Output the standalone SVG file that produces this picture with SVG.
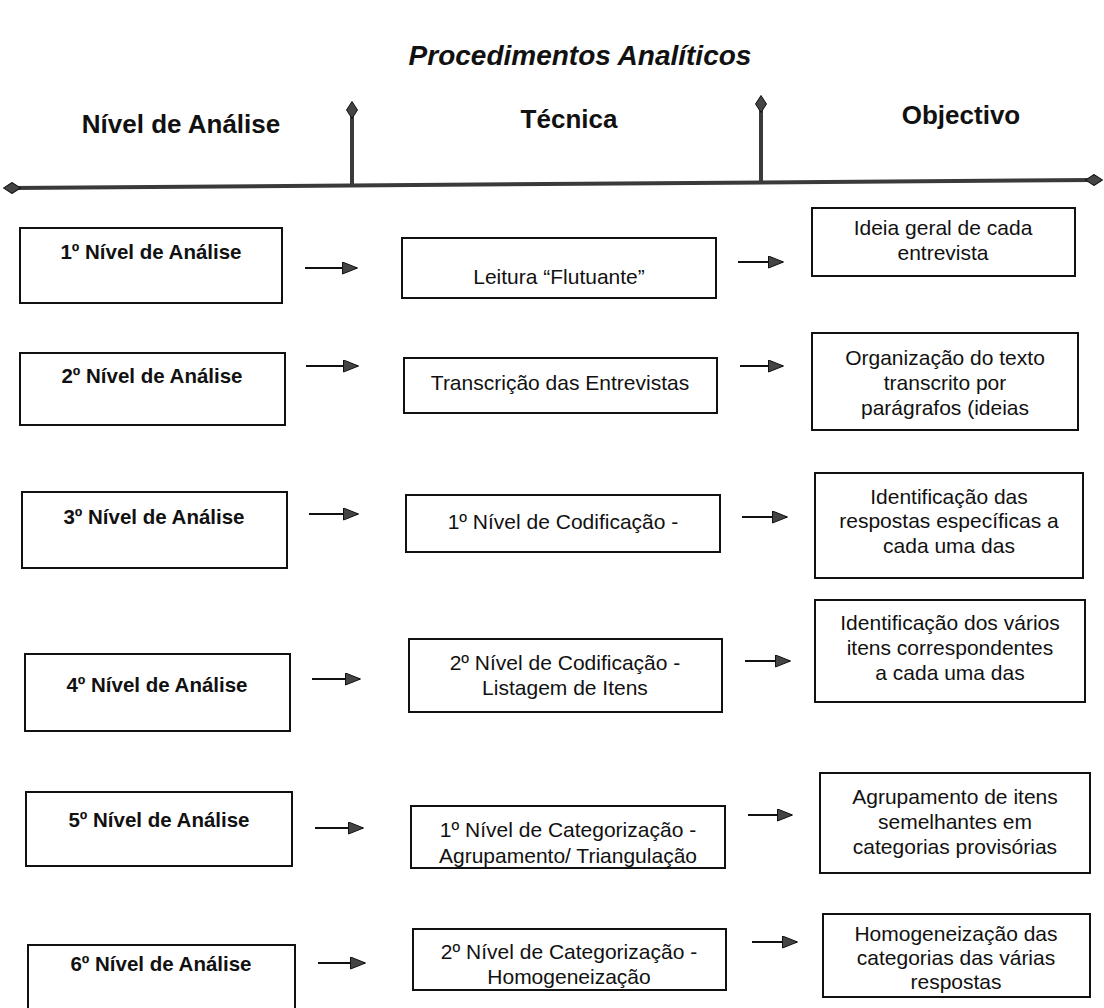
<svg xmlns="http://www.w3.org/2000/svg" width="1104" height="1008" viewBox="0 0 1104 1008">
<style>
  .box { fill: #fff; stroke: #111; stroke-width: 2; }
  .lbl { font-family: "Liberation Sans", Arial, sans-serif; font-size: 20.5px; font-weight: bold; fill: #111; text-anchor: middle; }
  .txt { font-family: "Liberation Sans", Arial, sans-serif; font-size: 21px; fill: #111; text-anchor: middle; }
  .hdr { font-family: "Liberation Sans", Arial, sans-serif; font-size: 26px; font-weight: bold; fill: #111; text-anchor: middle; }
  .title { font-family: "Liberation Sans", Arial, sans-serif; font-size: 28px; font-weight: bold; font-style: italic; fill: #111; text-anchor: middle; }
  .conn { stroke: #111; stroke-width: 2; fill: none; marker-end: url(#arrow); }
  .axis { stroke: #3a3a3a; stroke-width: 4; fill: none; }
</style>
<defs>
  <marker id="arrow" viewBox="0 0 16 13" refX="15" refY="6.5" markerWidth="16" markerHeight="13" markerUnits="userSpaceOnUse" orient="auto">
    <path d="M0.5,0.5 L15.5,6.5 L0.5,12.5 Z" fill="#444" stroke="#111" stroke-width="1"/>
  </marker>
  <marker id="diamond" viewBox="0 0 18 12" refX="9" refY="6" markerWidth="18" markerHeight="12" markerUnits="userSpaceOnUse" orient="auto">
    <path d="M0.5,6 L9,0.5 L17.5,6 L9,11.5 Z" fill="#444" stroke="#111" stroke-width="1"/>
  </marker>
</defs>

<g id="title">
  <text class="title" x="580" y="65">Procedimentos Analíticos</text>
</g>

<g id="headers">
  <text class="hdr" x="181" y="133">Nível de Análise</text>
  <text class="hdr" x="569" y="128">Técnica</text>
  <text class="hdr" x="961" y="124">Objectivo</text>
</g>

<g id="axis">
  <path class="axis" d="M12,188 L1094,180" marker-start="url(#diamond)" marker-end="url(#diamond)"/>
  <path class="axis" d="M352,186 L352,110" marker-end="url(#diamond)"/>
  <path class="axis" d="M761,182 L761,104" marker-end="url(#diamond)"/>
</g>

<g id="n1a"><rect class="box" x="20" y="228" width="262" height="75"/><text class="lbl" x="151" y="259">1º Nível de Análise</text></g>
<g id="n1b"><rect class="box" x="402" y="238" width="314" height="60"/><text class="txt" x="559" y="284">Leitura “Flutuante”</text></g>
<g id="n1c"><rect class="box" x="812" y="208" width="263" height="68"/><text class="txt" x="943" y="235">Ideia geral de cada</text><text class="txt" x="943" y="260">entrevista</text></g>

<g id="n2a"><rect class="box" x="20" y="353" width="265" height="72"/><text class="lbl" x="152" y="383">2º Nível de Análise</text></g>
<g id="n2b"><rect class="box" x="404" y="358" width="313" height="55"/><text class="txt" x="560" y="390">Transcrição das Entrevistas</text></g>
<g id="n2c"><rect class="box" x="812" y="333" width="266" height="97"/><text class="txt" x="945" y="365">Organização do texto</text><text class="txt" x="945" y="390">transcrito por</text><text class="txt" x="945" y="415">parágrafos (ideias</text></g>

<g id="n3a"><rect class="box" x="22" y="492" width="265" height="76"/><text class="lbl" x="154" y="524">3º Nível de Análise</text></g>
<g id="n3b"><rect class="box" x="406" y="495" width="314" height="57"/><text class="txt" x="563" y="529">1º Nível de Codificação -</text></g>
<g id="n3c"><rect class="box" x="815" y="473" width="268" height="105"/><text class="txt" x="949" y="504">Identificação das</text><text class="txt" x="949" y="528">respostas específicas a</text><text class="txt" x="949" y="553">cada uma das</text></g>

<g id="n4a"><rect class="box" x="25" y="654" width="265" height="77"/><text class="lbl" x="157" y="692">4º Nível de Análise</text></g>
<g id="n4b"><rect class="box" x="409" y="639" width="313" height="73"/><text class="txt" x="565" y="670">2º Nível de Codificação -</text><text class="txt" x="565" y="695">Listagem de Itens</text></g>
<g id="n4c"><rect class="box" x="815" y="600" width="270" height="102"/><text class="txt" x="950" y="630">Identificação dos vários</text><text class="txt" x="950" y="655">itens correspondentes</text><text class="txt" x="950" y="680">a cada uma das</text></g>

<g id="n5a"><rect class="box" x="26" y="792" width="266" height="74"/><text class="lbl" x="159" y="827">5º Nível de Análise</text></g>
<g id="n5b"><rect class="box" x="411" y="806" width="314" height="62"/><text class="txt" x="568" y="837">1º Nível de Categorização -</text><text class="txt" x="568" y="863">Agrupamento/ Triangulação</text></g>
<g id="n5c"><rect class="box" x="820" y="773" width="270" height="100"/><text class="txt" x="955" y="804">Agrupamento de itens</text><text class="txt" x="955" y="829">semelhantes em</text><text class="txt" x="955" y="854">categorias provisórias</text></g>

<g id="n6a"><rect class="box" x="28" y="945" width="267" height="80"/><text class="lbl" x="161" y="971">6º Nível de Análise</text></g>
<g id="n6b"><rect class="box" x="413" y="929" width="313" height="61"/><text class="txt" x="569" y="959">2º Nível de Categorização -</text><text class="txt" x="569" y="984">Homogeneização</text></g>
<g id="n6c"><rect class="box" x="823" y="914" width="267" height="83"/><text class="txt" x="956" y="941">Homogeneização das</text><text class="txt" x="956" y="965">categorias das várias</text><text class="txt" x="956" y="989">respostas</text></g>

<g id="connectors">
  <path class="conn" d="M305,268 L357,268"/>
  <path class="conn" d="M738,262 L783,262"/>
  <path class="conn" d="M306,366 L358,366"/>
  <path class="conn" d="M740,366 L783,366"/>
  <path class="conn" d="M309,514 L358,514"/>
  <path class="conn" d="M742,517 L787,517"/>
  <path class="conn" d="M312,679 L360,679"/>
  <path class="conn" d="M745,661 L790,661"/>
  <path class="conn" d="M315,828 L363,828"/>
  <path class="conn" d="M748,815 L792,815"/>
  <path class="conn" d="M318,963 L365,963"/>
  <path class="conn" d="M752,942 L797,942"/>
</g>
</svg>
